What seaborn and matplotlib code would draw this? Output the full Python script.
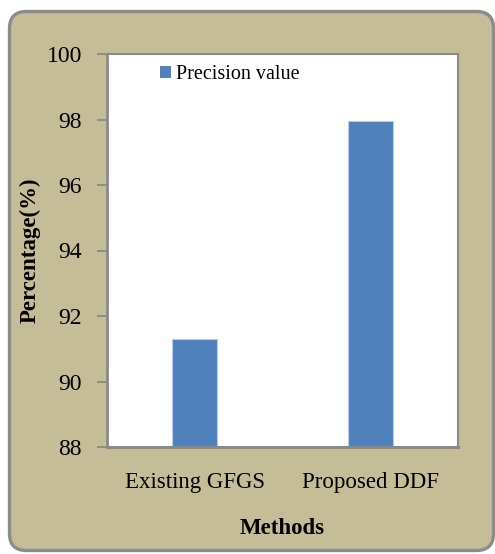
import matplotlib
matplotlib.use("Agg")
import matplotlib.pyplot as plt
from matplotlib.patches import FancyBboxPatch, Patch
import seaborn as sns
import pandas as pd

methods = ["Existing GFGS", "Proposed DDF"]
precision = [91.3, 97.95]
series_name = "Precision value"
y_ticks = [88, 90, 92, 94, 96, 98, 100]

sns.set_theme(style="white")
plt.rcParams["font.family"] = ["Liberation Serif", "DejaVu Serif"]
plt.rcParams["text.color"] = "black"
plt.rcParams["axes.labelcolor"] = "black"

W, H, DPI = 495, 554, 100
fig = plt.figure(figsize=(W / DPI, H / DPI), dpi=DPI)
fig.patch.set_facecolor("white")

# rounded tan panel behind the chart
panel = FancyBboxPatch((9.5 / DPI, 3.5 / DPI), 484 / DPI, 539 / DPI,
                       boxstyle="round,pad=0,rounding_size=0.17",
                       transform=fig.dpi_scale_trans,
                       facecolor="#C4BD97", edgecolor="#8C8C8C", linewidth=2.4,
                       zorder=-10)
fig.patches.append(panel)

ax = fig.add_axes([107 / W, (H - 447) / H, 351 / W, 393 / H])
ax.set_zorder(1)
ax.set_facecolor("white")

df = pd.DataFrame({"Method": methods, "Value": precision})
sns.barplot(data=df, x="Method", y="Value", color="#4F81BD", saturation=1,
            width=0.256, edgecolor="#B9CDE5", linewidth=0.8, ax=ax)

ax.set_ylim(88, 100)
ax.set_yticks(y_ticks)
ax.set_yticklabels([str(t) for t in y_ticks], fontsize=17)
ax.tick_params(axis="y", length=7, width=1.2, color="#868686", labelcolor="black",
               pad=11, left=True)
ax.tick_params(axis="x", length=0, pad=18, labelsize=16.5, labelcolor="black")

for side, sp in ax.spines.items():
    sp.set_visible(True)
    sp.set_color("#8A8A8A")
    sp.set_linewidth(1.5)
ax.spines["bottom"].set_linewidth(2.2)
ax.spines["left"].set_linewidth(2.0)

ax.set_xlabel("Methods", fontsize=16.5, fontweight="bold")
ax.xaxis.set_label_coords(0.5, -(528 - 447) / 393)
ax.xaxis.label.set_va("center")
ax.set_ylabel("Percentage(%)", fontsize=16.5, fontweight="bold")
ax.yaxis.set_label_coords((30 - 107) / 351, 0.5)
ax.yaxis.label.set_va("center")

handle = Patch(facecolor="#4F81BD", edgecolor="none")
ax.legend([handle], [series_name], loc="upper left",
          bbox_to_anchor=((160 - 107) / 351, 1 - 11 / 393),
          frameon=False, fontsize=14.5, handlelength=0.55, handleheight=0.55,
          handletextpad=0.25, borderpad=0, borderaxespad=0)

fig.savefig("out.png", dpi=DPI, facecolor=fig.get_facecolor())
